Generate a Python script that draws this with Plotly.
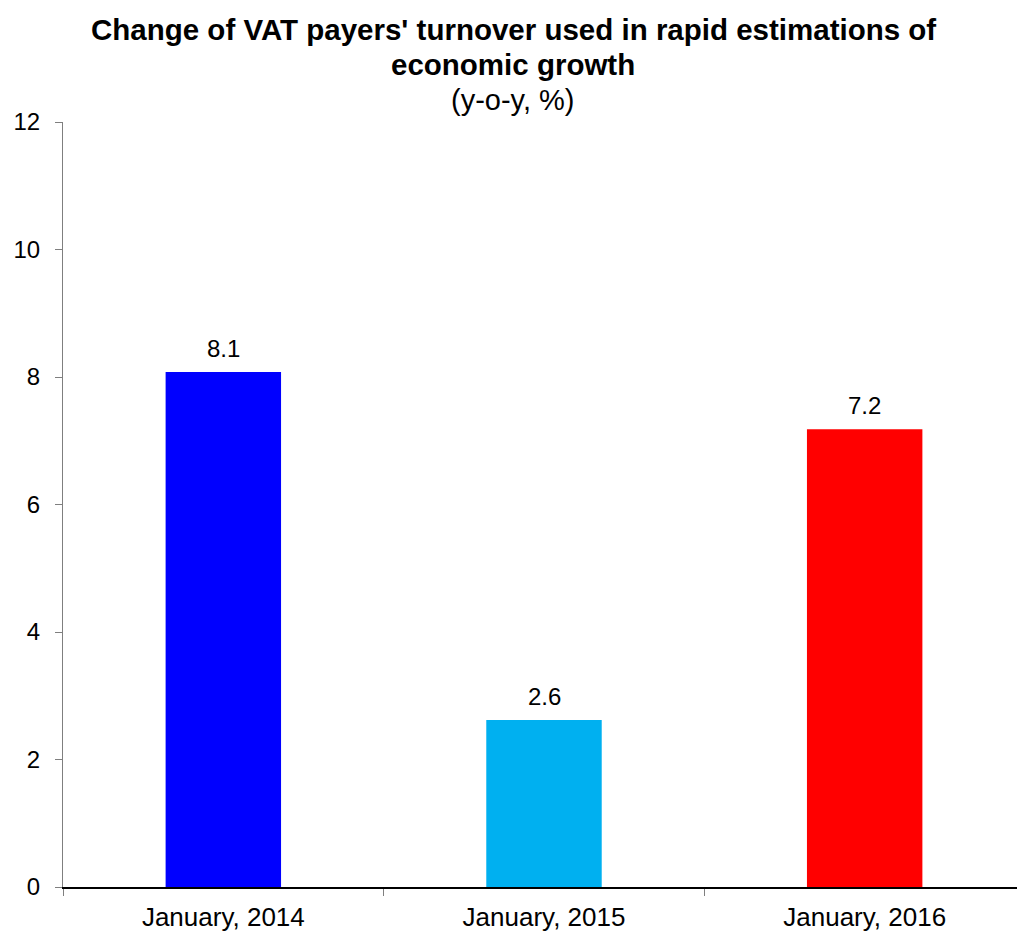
import plotly.graph_objects as go

categories = ["January, 2014", "January, 2015", "January, 2016"]
values = [8.08, 2.62, 7.18]
labels = ["8.1", "2.6", "7.2"]
colors = ["#0000FF", "#00B0F0", "#FF0000"]

FONT = "Liberation Sans, Arial, sans-serif"

fig = go.Figure()
fig.add_trace(go.Bar(
    x=categories, y=values, marker=dict(color=colors, line=dict(width=0)),
    hoverinfo="skip",
))

for c, v, t in zip(categories, values, labels):
    fig.add_annotation(x=c, y=v, text=t, showarrow=False, yanchor="bottom",
                       yshift=8, font=dict(size=24, family=FONT, color="black"))

TX = (513 - 63) / 962
fig.add_annotation(xref="paper", yref="paper", x=TX, y=(887 - 30) / 765,
                   text="<b>Change of VAT payers' turnover used in rapid estimations of</b>",
                   showarrow=False, xanchor="center", yanchor="middle",
                   font=dict(size=29.5, family=FONT, color="black"))
fig.add_annotation(xref="paper", yref="paper", x=TX, y=(887 - 64) / 765,
                   text="<b>economic growth</b>",
                   showarrow=False, xanchor="center", yanchor="middle",
                   font=dict(size=29.5, family=FONT, color="black"))
fig.add_annotation(xref="paper", yref="paper", x=TX, y=(887 - 100) / 765,
                   text="(y-o-y, %)",
                   showarrow=False, xanchor="center", yanchor="middle",
                   font=dict(size=29, family=FONT, color="black"))

fig.update_layout(
    width=1017, height=933,
    margin=dict(l=55, r=0, t=114, b=54),
    paper_bgcolor="white", plot_bgcolor="white",
    bargap=0.64,
    showlegend=False,
    font=dict(family=FONT, size=24, color="black"),
    xaxis=dict(
        type="category", showline=True, linecolor="black", linewidth=1.5,
        ticks="outside", tickson="boundaries", ticklen=7, tickcolor="#7f7f7f",
        showgrid=False, tickfont=dict(size=26), automargin=False,
        ticklabelstandoff=6,
    ),
    yaxis=dict(
        range=[0, 12], tickvals=[0, 2, 4, 6, 8, 10, 12], showline=True,
        linecolor="#7f7f7f", linewidth=1, ticks="outside", ticklen=7,
        tickcolor="#7f7f7f", showgrid=False, zeroline=False,
        tickfont=dict(size=24), automargin=False, ticklabelstandoff=10,
    ),
)

fig.write_html("out.html")
